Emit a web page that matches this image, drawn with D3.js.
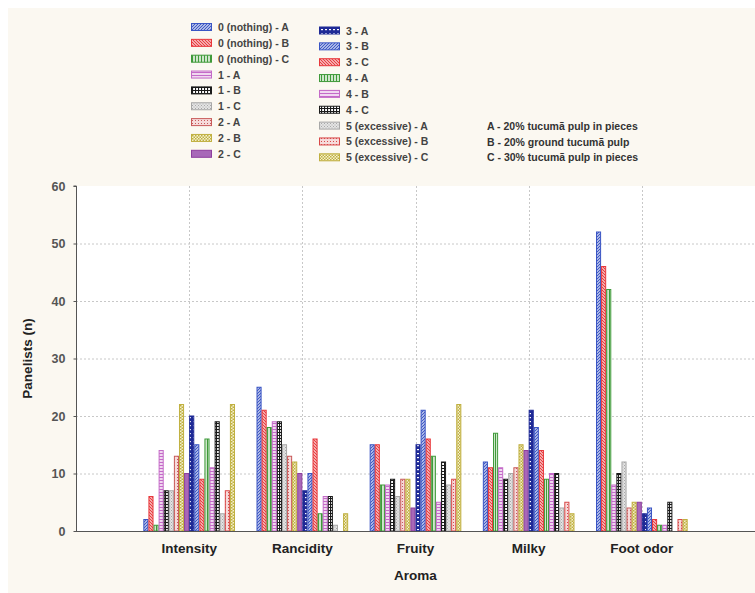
<!DOCTYPE html>
<html>
<head>
<meta charset="utf-8">
<script src="https://cdn.jsdelivr.net/npm/d3@7"></script>
<style>
  body { margin: 0; background: #fff; }
  svg { display: block; font-family: "Liberation Sans", Arial, sans-serif; }
</style>
</head>
<body>
<div id="chart"></div>
<script>
const categories = ["Intensity", "Rancidity", "Fruity", "Milky", "Foot odor"];
const seriesNames = [
  "0 (nothing) - A", "0 (nothing) - B", "0 (nothing) - C",
  "1 - A", "1 - B", "1 - C",
  "2 - A", "2 - B", "2 - C",
  "3 - A", "3 - B", "3 - C",
  "4 - A", "4 - B", "4 - C",
  "5 (excessive) - A", "5 (excessive) - B", "5 (excessive) - C"
];
// panelists per series, one array per aroma attribute
const intensity = [2, 6, 1, 14, 7, 7, 13, 22, 10, 20, 15, 9, 16, 11, 19, 3, 7, 22];
const rancidity = [25, 21, 18, 19, 19, 15, 13, 12, 10, 7, 10, 16, 3, 6, 6, 1, 0, 3];
const fruity = [15, 15, 8, 8, 9, 6, 9, 9, 4, 15, 21, 16, 13, 5, 12, 8, 9, 22];
const milky = [12, 11, 17, 11, 9, 10, 11, 15, 14, 21, 18, 14, 9, 10, 10, 4, 5, 3];
const footOdor = [52, 46, 42, 8, 10, 12, 4, 5, 5, 3, 4, 2, 1, 1, 5, 0, 2, 2];
const yTicks = [0, 10, 20, 30, 40, 50, 60];
const notes = [
  "A - 20% tucumã pulp in pieces",
  "B - 20% ground tucumã pulp",
  "C - 30% tucumã pulp in pieces"
];

const valuesByCategory = [intensity, rancidity, fruity, milky, footOdor];

// colour + pattern style of each series
const styles = [
  { c: "#3a55c4", p: "fwd" }, { c: "#e8383c", p: "back" }, { c: "#3f9a3a", p: "vert" },
  { c: "#c46ac8", p: "horiz" }, { c: "#1a1a1a", p: "grid" }, { c: "#a8a8a8", p: "dots" },
  { c: "#c85a5a", p: "wdots" }, { c: "#c0b040", p: "check" }, { c: "#8e3e9e", p: "solid" },
  { c: "#1f2a96", p: "brick" }, { c: "#3a55c4", p: "fwd" }, { c: "#e8383c", p: "back" },
  { c: "#3f9a3a", p: "vert" }, { c: "#c46ac8", p: "horiz" }, { c: "#1a1a1a", p: "grid" },
  { c: "#a8a8a8", p: "dots" }, { c: "#d84848", p: "wdots" }, { c: "#c0b040", p: "check" }
];

const W = 755, H = 593;
const svg = d3.select("#chart").append("svg").attr("width", W).attr("height", H);

const defs = svg.append("defs");
styles.forEach(function(s, i) {
  const pat = defs.append("pattern")
    .attr("id", "pat" + i)
    .attr("patternUnits", "userSpaceOnUse");
  let size = 3;
  if (s.p === "brick") size = 4;
  pat.attr("width", size).attr("height", size);
  pat.append("rect").attr("width", size).attr("height", size).attr("fill", "#fff");
  const g = pat.append("g").attr("stroke", s.c).attr("stroke-width", 1.2).attr("fill", s.c);
  if (s.p === "fwd") {
    pat.select("rect").attr("fill", "#dfe4f6");
    g.append("path").attr("d", "M0,3L3,0M-1,1L1,-1M2,4L4,2").attr("fill", "none");
  } else if (s.p === "back") {
    pat.select("rect").attr("fill", "#fbe0e0");
    g.append("path").attr("d", "M0,0L3,3M-1,2L1,4M2,-1L4,1").attr("fill", "none");
  } else if (s.p === "vert") {
    g.append("path").attr("d", "M0.5,0V3").attr("fill", "none");
    pat.append("rect").attr("x", 1).attr("width", 2).attr("height", 3).attr("fill", "#cfe6cb");
  } else if (s.p === "horiz") {
    g.append("path").attr("d", "M0,0.5H3").attr("fill", "none");
    pat.append("rect").attr("y", 1).attr("width", 3).attr("height", 2).attr("fill", "#f0d8f0");
  } else if (s.p === "grid") {
    g.append("path").attr("d", "M0,0.5H3M0.5,0V3").attr("fill", "none");
  } else if (s.p === "dots") {
    g.attr("stroke", "none");
    g.append("rect").attr("width", 1).attr("height", 1);
    g.append("rect").attr("x", 1.5).attr("y", 1.5).attr("width", 1).attr("height", 1);
    pat.select("rect").attr("fill", "#e4e4e4");
  } else if (s.p === "wdots") {
    pat.select("rect").attr("fill", "#f6dada");
    g.attr("stroke", "none");
    g.append("rect").attr("width", 1).attr("height", 1);
  } else if (s.p === "check") {
    g.attr("stroke", "none");
    g.append("rect").attr("width", 1.5).attr("height", 1.5);
    g.append("rect").attr("x", 1.5).attr("y", 1.5).attr("width", 1.5).attr("height", 1.5);
    pat.select("rect").attr("fill", "#f4f0d0");
  } else if (s.p === "solid") {
    pat.select("rect").attr("fill", "#a868b8");
  } else if (s.p === "brick") {
    pat.select("rect").attr("fill", s.c);
    pat.append("rect").attr("x", 1).attr("y", 1).attr("width", 2).attr("height", 1.2).attr("fill", "#fff");
  }
});

// cream page background with a thin white border
svg.append("rect").attr("x", 8).attr("y", 8).attr("width", W - 8).attr("height", H - 8)
  .attr("fill", "#fbf8f1");

const plot = { left: 76, right: 755, top: 186, bottom: 531 };
svg.append("rect")
  .attr("x", plot.left).attr("y", plot.top)
  .attr("width", plot.right - plot.left).attr("height", plot.bottom - plot.top)
  .attr("fill", "#fff");

const x = d3.scaleLinear().domain([0, 6]).range([plot.left, plot.right]);
const y = d3.scaleLinear().domain([0, 60]).range([plot.bottom, plot.top]);

// grid
svg.append("g")
  .selectAll("line.hg")
  .data(yTicks.filter(function(t) { return t > 0 && t < 60; }))
  .enter().append("line")
  .attr("x1", plot.left).attr("x2", plot.right)
  .attr("y1", function(d) { return y(d) + 0.5; })
  .attr("y2", function(d) { return y(d) + 0.5; })
  .attr("stroke", "#c8c8c8").attr("stroke-dasharray", "2,2");
svg.append("g")
  .selectAll("line.vg")
  .data(categories)
  .enter().append("line")
  .attr("x1", function(d, i) { return Math.round(x(i + 1)) + 0.5; })
  .attr("x2", function(d, i) { return Math.round(x(i + 1)) + 0.5; })
  .attr("y1", plot.top).attr("y2", plot.bottom)
  .attr("stroke", "#c8c8c8").attr("stroke-dasharray", "2,2");

// bars
const groupWidth = 0.81;
const bw = (x(groupWidth) - x(0)) / seriesNames.length;
const bars = svg.append("g");
valuesByCategory.forEach(function(vals, ci) {
  const x0 = x(ci + 1) - (x(groupWidth) - x(0)) / 2;
  bars.selectAll(null)
    .data(vals.map(function(v, si) { return { v: v, si: si }; }).filter(function(d) { return d.v > 0; }))
    .enter().append("rect")
    .attr("x", function(d) { return x0 + d.si * bw + 0.5; })
    .attr("y", function(d) { return y(d.v); })
    .attr("width", bw - 1)
    .attr("height", function(d) { return y(0) - y(d.v); })
    .attr("fill", function(d) { return "url(#pat" + d.si + ")"; })
    .attr("stroke", function(d) { return styles[d.si].c; })
    .attr("stroke-width", 1);
});

// axes
const yAxis = svg.append("g")
  .attr("transform", "translate(" + (plot.left + 0.5) + ",0)")
  .call(d3.axisLeft(y).tickValues(yTicks).tickSize(3).tickPadding(8));
yAxis.select(".domain").attr("stroke", "#555").attr("d", "M-3," + plot.top + "H0V" + plot.bottom);
yAxis.selectAll(".tick line").attr("stroke", "#555");
yAxis.selectAll(".tick text")
  .attr("fill", "#555").attr("font-size", 12.5).attr("font-weight", "bold")
  .attr("font-family", "Liberation Sans, Arial, sans-serif");

svg.append("line")
  .attr("x1", plot.left).attr("x2", plot.right)
  .attr("y1", plot.bottom + 0.5).attr("y2", plot.bottom + 0.5)
  .attr("stroke", "#555");

svg.append("g").selectAll("text")
  .data(categories)
  .enter().append("text")
  .attr("x", function(d, i) { return x(i + 1); })
  .attr("y", 553)
  .attr("text-anchor", "middle")
  .attr("font-size", 13.5).attr("font-weight", "bold").attr("fill", "#222")
  .text(function(d) { return d; });

svg.append("text")
  .attr("x", (plot.left + plot.right) / 2).attr("y", 580)
  .attr("text-anchor", "middle")
  .attr("font-size", 13.5).attr("font-weight", "bold").attr("fill", "#222")
  .text("Aroma");

svg.append("text")
  .attr("transform", "translate(32," + (plot.top + plot.bottom) / 2 + ") rotate(-90)")
  .attr("text-anchor", "middle")
  .attr("font-size", 13.5).attr("font-weight", "bold").attr("fill", "#222")
  .text("Panelists (n)");

// legend in two columns
const legend = svg.append("g");
seriesNames.forEach(function(name, i) {
  const col = i < 9 ? 0 : 1;
  const row = i % 9;
  const lx = col === 0 ? 191 : 319;
  const ly = (col === 0 ? 27 : 30.5) + row * 15.85;
  legend.append("rect")
    .attr("x", lx + 0.5).attr("y", ly - 3.5)
    .attr("width", 20).attr("height", 7)
    .attr("fill", "url(#pat" + i + ")")
    .attr("stroke", styles[i].c);
  legend.append("text")
    .attr("x", lx + 27).attr("y", ly + 4)
    .attr("font-size", 10.5).attr("font-weight", "bold").attr("fill", "#444")
    .text(name);
});

svg.append("g").selectAll("text")
  .data(notes)
  .enter().append("text")
  .attr("x", 487)
  .attr("y", function(d, i) { return 130 + i * 15.5; })
  .attr("font-size", 10.5).attr("font-weight", "bold").attr("fill", "#333")
  .text(function(d) { return d; });
</script>
</body>
</html>
